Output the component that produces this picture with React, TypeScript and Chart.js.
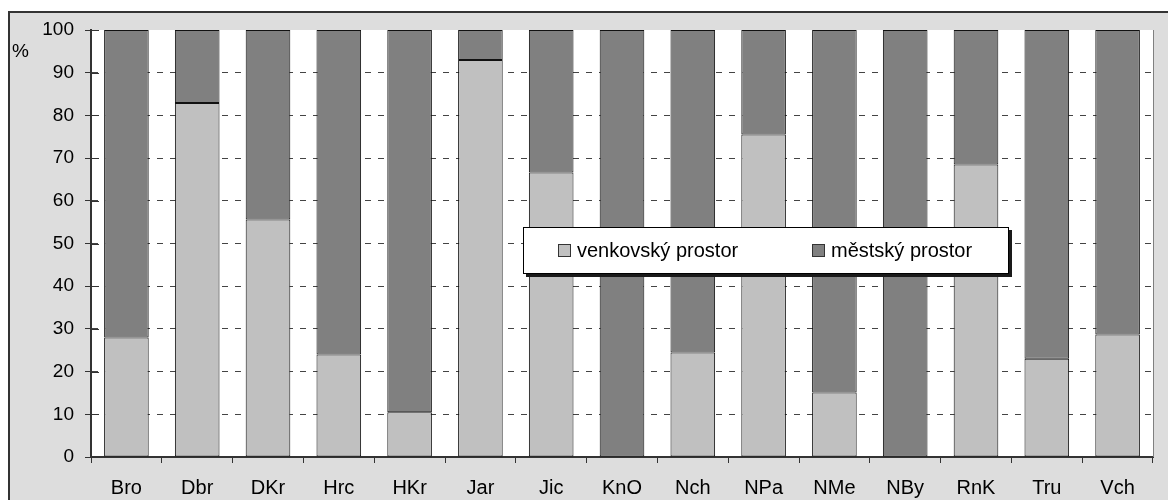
import React, { useEffect, useRef } from "react";
import { Chart, registerables } from "chart.js";

Chart.register(...registerables);

const categories = ["Bro", "Dbr", "DKr", "Hrc", "HKr", "Jar", "Jic", "KnO", "Nch", "NPa", "NMe", "NBy", "RnK", "Tru", "Vch"];
const venkovsky = [28, 82.9, 55.6, 24, 10.5, 93, 66.6, 0, 24.5, 75.5, 15.1, 0, 68.5, 23, 28.7];
const mestsky = [72, 17.1, 44.4, 76, 89.5, 7, 33.4, 100, 75.5, 24.5, 84.9, 100, 31.5, 77, 71.3];
const seriesNames = ["venkovský prostor", "městský prostor"];
const seriesColors = ["#c0c0c0", "#808080"];
const yTicks = [0, 10, 20, 30, 40, 50, 60, 70, 80, 90, 100];
const yUnit = "%";

const FONT = '"Liberation Sans", Arial, sans-serif';

if (typeof document !== "undefined") {
  document.documentElement.style.overflow = "hidden";
}

const decorPlugin = {
  id: "decor",
  beforeDraw(chart: any) {
    const { ctx, chartArea } = chart;
    ctx.save();
    ctx.fillStyle = "#ffffff";
    ctx.fillRect(chartArea.left, chartArea.top, chartArea.right - chartArea.left, chartArea.bottom - chartArea.top);
    ctx.restore();
  },
  afterDraw(chart: any) {
    const { ctx, chartArea, scales } = chart;
    ctx.save();
    ctx.strokeStyle = "#808080";
    ctx.lineWidth = 1;
    ctx.beginPath();
    ctx.moveTo(chartArea.right + 0.5, chartArea.top);
    ctx.lineTo(chartArea.right + 0.5, chartArea.bottom);
    ctx.stroke();
    ctx.strokeStyle = "#333";
    ctx.lineWidth = 1;
    yTicks.forEach((v) => {
      const y = Math.round(scales.y.getPixelForValue(v)) + 0.5;
      ctx.beginPath();
      ctx.moveTo(chartArea.left, y);
      ctx.lineTo(chartArea.left + 8, y);
      ctx.stroke();
    });
    ctx.fillStyle = "#000";
    ctx.font = "19px " + FONT;
    ctx.textBaseline = "middle";
    ctx.textAlign = "left";
    ctx.fillText(yUnit, 2, 39);

    const bx = 513, by = 214, bw = 486, bh = 47;
    ctx.fillStyle = "#1a1a1a";
    ctx.fillRect(bx + 3, by + 3, bw, bh);
    ctx.fillStyle = "#ffffff";
    ctx.fillRect(bx, by, bw, bh);
    ctx.strokeStyle = "#000";
    ctx.lineWidth = 1;
    ctx.strokeRect(bx + 0.5, by + 0.5, bw - 1, bh - 1);
    const itemX = [548, 802];
    const cy = by + bh / 2;
    chart.data.datasets.forEach((ds: any, i: number) => {
      ctx.fillStyle = ds.backgroundColor;
      ctx.fillRect(itemX[i], cy - 6.5, 13, 13);
      ctx.strokeStyle = "#333";
      ctx.strokeRect(itemX[i] + 0.5, cy - 6, 12, 12);
      ctx.fillStyle = "#000";
      ctx.font = "20px " + FONT;
      ctx.textBaseline = "middle";
      ctx.fillText(ds.label, itemX[i] + 19, cy + 1);
    });
    ctx.restore();
  },
};

export default function App() {
  const ref = useRef<HTMLCanvasElement | null>(null);
  useEffect(() => {
    if (!ref.current) return;
    const mk = (i: number, data: number[]) => ({
      label: seriesNames[i],
      data,
      backgroundColor: seriesColors[i],
      borderColor: "#111",
      borderWidth: 1,
      borderSkipped: false,
      barPercentage: 0.63,
      categoryPercentage: 1,
    });
    const chart = new Chart(ref.current, {
      type: "bar",
      data: {
        labels: categories,
        datasets: [mk(0, venkovsky), mk(1, mestsky)],
      },
      options: {
        responsive: false,
        animation: false,
        layout: { padding: { top: 17, right: 23, left: 0, bottom: 0 } },
        plugins: { legend: { display: false }, tooltip: { enabled: false } },
        scales: {
          x: {
            stacked: true,
            afterFit: (s: any) => { s.height = 43; s.paddingLeft = 0; s.paddingRight = 0; },
            grid: { display: true, drawOnChartArea: false, drawTicks: true, tickLength: 6, color: "#333", offset: true },
            border: { display: true, color: "#333", width: 2 },
            ticks: { color: "#000", font: { family: FONT, size: 20 }, padding: 13, maxRotation: 0 },
          },
          y: {
            stacked: true,
            min: 0,
            max: 100,
            afterFit: (s: any) => { s.width = 81; s.paddingTop = 0; s.paddingBottom = 0; },
            afterBuildTicks: (s: any) => { s.ticks = yTicks.map((v) => ({ value: v })); },
            grid: {
              color: (c: any) => (c.tick && (c.tick.value === 0 || c.tick.value === 100) ? "rgba(0,0,0,0)" : "#444"),
              tickColor: "#333",
              tickLength: 6,
              lineWidth: 1,
            },
            border: { display: true, color: "#333", width: 2, dash: [6, 7] },
            ticks: { color: "#000", font: { family: FONT, size: 19 }, padding: 11, stepSize: 10 },
          },
        },
      },
      plugins: [decorPlugin],
    } as any);
    return () => chart.destroy();
  }, []);
  return (
    <div
      style={{
        marginTop: 3,
        width: 1166,
        height: 487,
        borderLeft: "2px solid #333",
        borderTop: "2px solid #333",
        background: "#dddddd",
      }}
    >
      <canvas ref={ref} width={1166} height={487} style={{ display: "block", width: 1166, height: 487 }} />
    </div>
  );
}
